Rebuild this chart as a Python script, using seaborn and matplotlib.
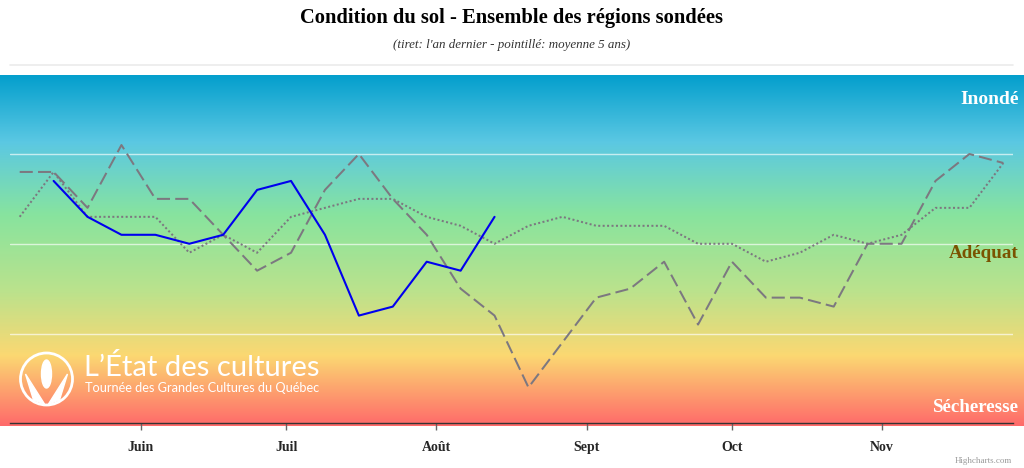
import numpy as np
import pandas as pd
import matplotlib
matplotlib.use("Agg")
import matplotlib.pyplot as plt
from matplotlib.colors import LinearSegmentedColormap
from matplotlib.patches import Ellipse, Polygon
from matplotlib.lines import Line2D
import seaborn as sns

# weekly survey dates
dates = pd.date_range("2019-05-07", periods=30, freq="7D")

# soil condition index (0 = drought, 2 = adequate, 4 = flooded)
current_year = [np.nan, 2.7, 2.3, 2.1, 2.1, 2.0, 2.1, 2.6, 2.7, 2.1, 1.2, 1.3, 1.8, 1.7, 2.3] + [np.nan] * 15
last_year = [2.8, 2.8, 2.4, 3.1, 2.5, 2.5, 2.1, 1.7, 1.9, 2.6, 3.0, 2.5, 2.1, 1.5, 1.2,
             0.4, 0.9, 1.4, 1.5, 1.8, 1.1, 1.8, 1.4, 1.4, 1.3, 2.0, 2.0, 2.7, 3.0, 2.9]
avg_5y = [2.3, 2.8, 2.3, 2.3, 2.3, 1.9, 2.1, 1.9, 2.3, 2.4, 2.5, 2.5, 2.3, 2.2, 2.0,
          2.2, 2.3, 2.2, 2.2, 2.2, 2.0, 2.0, 1.8, 1.9, 2.1, 2.0, 2.1, 2.4, 2.4, 2.9]

month_ticks = pd.to_datetime(["2019-06-01", "2019-07-01", "2019-08-01",
                              "2019-09-01", "2019-10-01", "2019-11-01"])
month_labels = ["Juin", "Juil", "Août", "Sept", "Oct", "Nov"]

df = pd.DataFrame({"date": dates, "current": current_year,
                   "last": last_year, "avg": avg_5y})

sns.set_style("white")
plt.rcParams["font.family"] = ["Liberation Serif", "DejaVu Serif"]

W, H = 1024, 468
fig = plt.figure(figsize=(W / 100, H / 100), dpi=100)

# gradient background
grad_colors = ["#049fcd", "#5bc8e3", "#88e49e", "#bce28c", "#fbd872", "#ff6a6a"]
cmap = LinearSegmentedColormap.from_list("soil", list(zip([0, 0.19, 0.40, 0.62, 0.80, 1.0], grad_colors)))
bg = fig.add_axes([0, 1 - 426 / H, 1, (426 - 75) / H], zorder=0)
bg.imshow(np.linspace(0, 1, 512).reshape(-1, 1), cmap=cmap, aspect="auto")
bg.axis("off")

ax = fig.add_axes([10 / W, 1 - 423.3 / H, 1003 / W, 348.3 / H], zorder=1)
ax.patch.set_alpha(0)

gray = "#7c7880"
sns.lineplot(data=df, x="date", y="last", ax=ax, color=gray, linewidth=1.45)
ax.lines[-1].set_dashes((6.5, 2.6))
sns.lineplot(data=df, x="date", y="avg", ax=ax, color=gray, linewidth=1.45)
ax.lines[-1].set_dashes((1, 1.2))
sns.lineplot(data=df, x="date", y="current", ax=ax, color="#0000ee", linewidth=1.5)

ax.set_xlim(pd.Timestamp("2019-05-05"), pd.Timestamp("2019-11-28"))
ax.set_ylim(0, 3.88)
ax.set_yticks([1, 2, 3])
ax.set_yticklabels([])
ax.tick_params(axis="y", length=0)
ax.yaxis.grid(True, color="white", alpha=0.65, linewidth=1)
ax.xaxis.grid(False)
ax.set_xticks(month_ticks)
ax.set_xticklabels(month_labels, fontweight="bold", fontsize=10)
ax.tick_params(axis="x", length=5, width=1, color="#666666", pad=8, bottom=True)
ax.set_xlabel("")
ax.set_ylabel("")
for s in ["top", "left", "right"]:
    ax.spines[s].set_visible(False)
ax.spines["bottom"].set_color("#333333")
ax.spines["bottom"].set_linewidth(1)

# zone labels
fig.text(1019 / W, 1 - 99 / H, "Inondé", ha="right", va="center", fontsize=14,
         fontweight="bold", color="white")
fig.text(1019 / W, 1 - 254 / H, "Adéquat", ha="right", va="center", fontsize=13.7,
         fontweight="bold", color="#7a5200")
fig.text(1019 / W, 1 - 408 / H, "Sécheresse", ha="right", va="center", fontsize=13.7,
         fontweight="bold", color="white")

# titles
fig.text(0.5, 1 - 18 / H, "Condition du sol - Ensemble des régions sondées", ha="center",
         va="center", fontsize=14.8, fontweight="bold", color="black")
fig.text(0.5, 1 - 45 / H, "(tiret: l'an dernier - pointillé: moyenne 5 ans)", ha="center",
         va="center", fontsize=9.4, style="italic", color="#333333")
fig.add_artist(Line2D([10 / W, 1013 / W], [1 - 65 / H, 1 - 65 / H], color="#ebebeb",
                      linewidth=1.2, transform=fig.transFigure))

# logo
cx, cy, r = 46.5 / W, 1 - 379 / H, 26
fig.add_artist(Ellipse((cx, cy), 2 * r / W, 2 * r / H, fill=False, edgecolor="white",
                       linewidth=2, transform=fig.transFigure, zorder=3))
fig.add_artist(Ellipse((cx, cy + 5 / H), 10 / W, 28 / H, color="white",
                       transform=fig.transFigure, zorder=3))
for sx in (-1, 1):
    pts = [(cx + sx * 2 / W, cy - 25 / H), (cx + sx * 21 / W, cy + 5 / H),
           (cx + sx * 13 / W, cy - 21 / H)]
    fig.add_artist(Polygon(pts, closed=True, color="white", transform=fig.transFigure, zorder=3))
fig.text(84 / W, 1 - 368 / H, "L’État des cultures", ha="left", va="center", fontsize=21,
         color="white", family=["Lato", "DejaVu Sans"])
fig.text(85 / W, 1 - 388 / H, "Tournée des Grandes Cultures du Québec", ha="left", va="center",
         fontsize=9.2, color="white", family=["Lato", "DejaVu Sans"])

fig.text(1012 / W, 1 - 461 / H, "Highcharts.com", ha="right", va="center", fontsize=6.5,
         color="#999999")

fig.savefig("out.png", dpi=100)
